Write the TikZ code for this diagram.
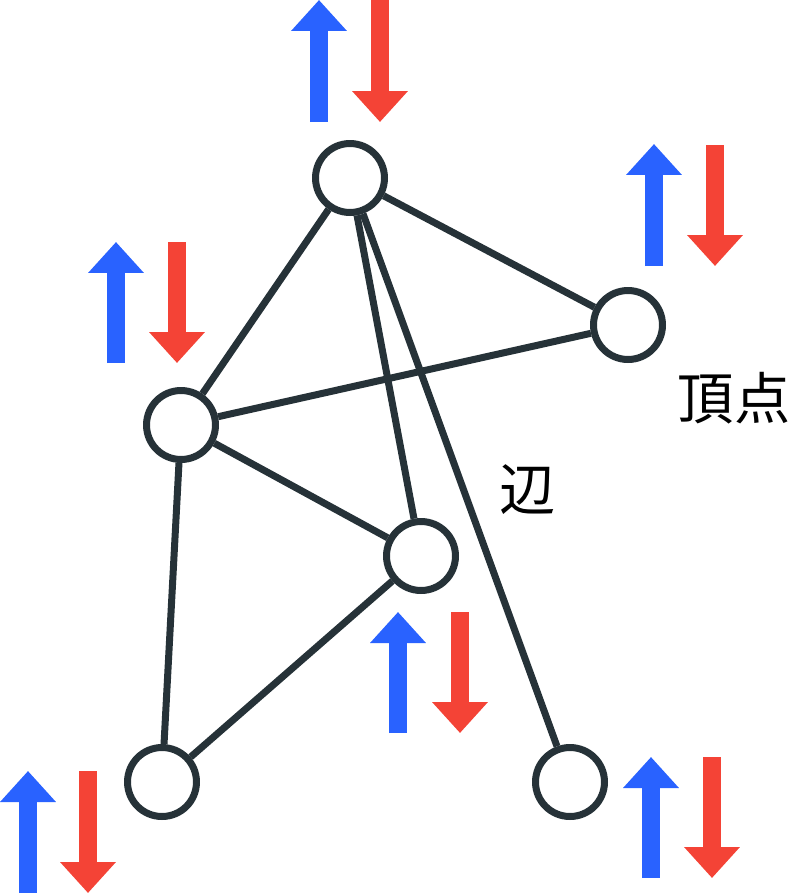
\documentclass[tikz,border=0pt]{standalone}
\usepackage{fontspec}
\newfontfamily\jpfont{Noto Sans CJK JP}
\usetikzlibrary{arrows.meta}

\definecolor{edgegray}{HTML}{263238}
\definecolor{spinblue}{HTML}{2962FF}
\definecolor{spinred}{HTML}{F44336}

\begin{document}
\begin{tikzpicture}[x=0.02cm, y=-0.02cm,
	vertex/.style={circle, draw=edgegray, line width=0.14cm, minimum size=1.38cm, inner sep=0pt},
	link/.style={draw=edgegray, line width=0.14cm},
	spinup/.style={spinblue, line width=0.36cm, -{Triangle[width=1.08cm, length=0.62cm]}},
	spindown/.style={spinred, line width=0.36cm, -{Triangle[width=1.08cm, length=0.62cm]}},
	tag/.style={font=\jpfont\fontsize{32pt}{36pt}\selectfont, inner sep=0pt}
]
	\useasboundingbox (0,0) rectangle (789,893);

	% Vertices
	\node[vertex] (top) at (350,178) {};
	\node[vertex] (rgt) at (628,325) {};
	\node[vertex] (lft) at (181,425) {};
	\node[vertex] (mid) at (421,556) {};
	\node[vertex] (bl) at (162,782) {};
	\node[vertex] (br) at (570,782) {};

	% Edges
	\draw[link] (top) -- (lft);
	\draw[link] (top) -- (rgt);
	\draw[link] (top) -- (mid);
	\draw[link] (top) -- (br);
	\draw[link] (lft) -- (rgt);
	\draw[link] (lft) -- (mid);
	\draw[link] (lft) -- (bl);
	\draw[link] (mid) -- (bl);

	% Spins
	\draw[spinup] (319,122) -- (319,0);
	\draw[spindown] (380,0) -- (380,122);
	\draw[spinup] (654,266) -- (654,144);
	\draw[spindown] (715,145) -- (715,266);
	\draw[spinup] (116,363) -- (116,242);
	\draw[spindown] (177,242) -- (177,363);
	\draw[spinup] (398,733) -- (398,612);
	\draw[spindown] (460,612) -- (460,733);
	\draw[spinup] (28,893) -- (28,771);
	\draw[spindown] (88,771) -- (88,893);
	\draw[spinup] (651,878) -- (651,757);
	\draw[spindown] (712,757) -- (712,878);

	% Labels
	\node[tag] (vlabel) at (734,398) {頂点};
	\node[tag] (elabel) at (528,490) {辺};

\end{tikzpicture}
\end{document}
